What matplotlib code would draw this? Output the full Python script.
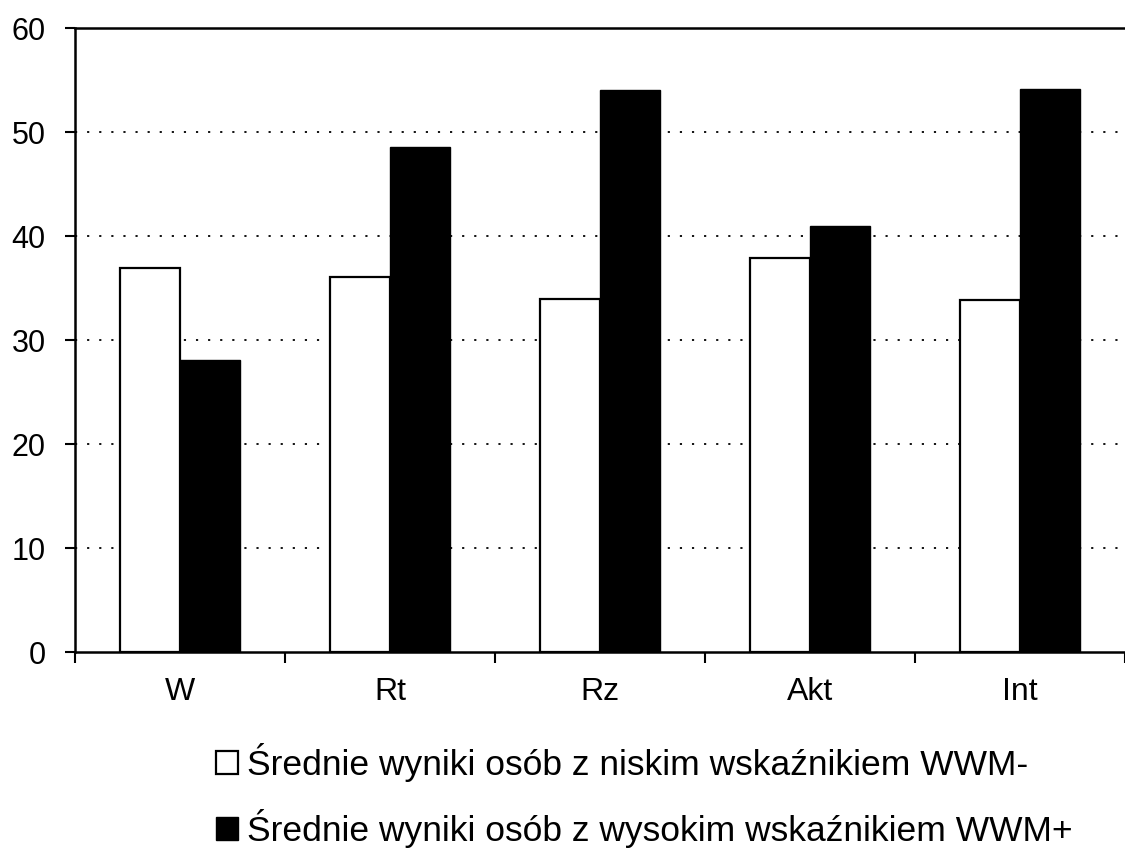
# -*- coding: utf-8 -*-
"""
Grouped bar chart: mean scores for low / high WWM groups.
"""
import matplotlib.pyplot as plt
import numpy as np

categories = ['W', 'Rt', 'Rz', 'Akt', 'Int']
low_wwm = [36.9, 36.1, 33.9, 37.9, 33.8]
high_wwm = [28.1, 48.6, 54.0, 41.0, 54.1]
labels = ['Średnie wyniki osób z niskim wskaźnikiem WWM-',
          'Średnie wyniki osób z wysokim wskaźnikiem WWM+']
yticks = [0, 10, 20, 30, 40, 50, 60]

plt.rcParams['font.family'] = ['Liberation Sans', 'DejaVu Sans']

fig = plt.figure(figsize=(11.25, 8.48), dpi=100)
ax = fig.add_axes([75 / 1125, 1 - 652 / 848, 1 - 75 / 1125, 624 / 848])

x = np.arange(len(categories))
w = 0.288
ax.bar(x - w / 2, low_wwm, w, color='white', edgecolor='black',
       linewidth=1.6, zorder=3, label=labels[0])
ax.bar(x + w / 2, high_wwm, w, color='black', edgecolor='black',
       linewidth=1.0, zorder=2, label=labels[1])

ax.set_xlim(-0.5, -0.5 + 1050 / 212)
ax.set_ylim(0, 60)

# dotted gridlines
for y in yticks[1:-1]:
    ax.axhline(y, color='black', lw=1.3, linestyle=(0, (1.2, 5.5)), zorder=1)

ax.set_yticks(yticks)
ax.tick_params(axis='y', labelsize=22, length=7, width=1.5, pad=14, direction='out')

# category boundaries as ticks, names in between
bounds = np.arange(-0.5, len(categories), 1.0)
ax.set_xticks(bounds)
ax.set_xticklabels([''] * len(bounds))
ax.set_xticks(x, minor=True)
ax.set_xticklabels(categories, minor=True)
ax.tick_params(axis='x', which='major', length=8, width=1.5, direction='out')
ax.tick_params(axis='x', which='minor', length=0, labelsize=23, pad=18)

for side in ['left', 'bottom', 'top']:
    ax.spines[side].set_linewidth(1.8)
ax.spines['right'].set_visible(False)

fig.legend(loc='upper left', bbox_to_anchor=(202 / 1125, 1 - 729 / 848),
           frameon=False, fontsize=25.5, handlelength=0.62, handleheight=0.62,
           handletextpad=0.25, labelspacing=0.75, borderaxespad=0)

fig.savefig('out.png', dpi=100)
